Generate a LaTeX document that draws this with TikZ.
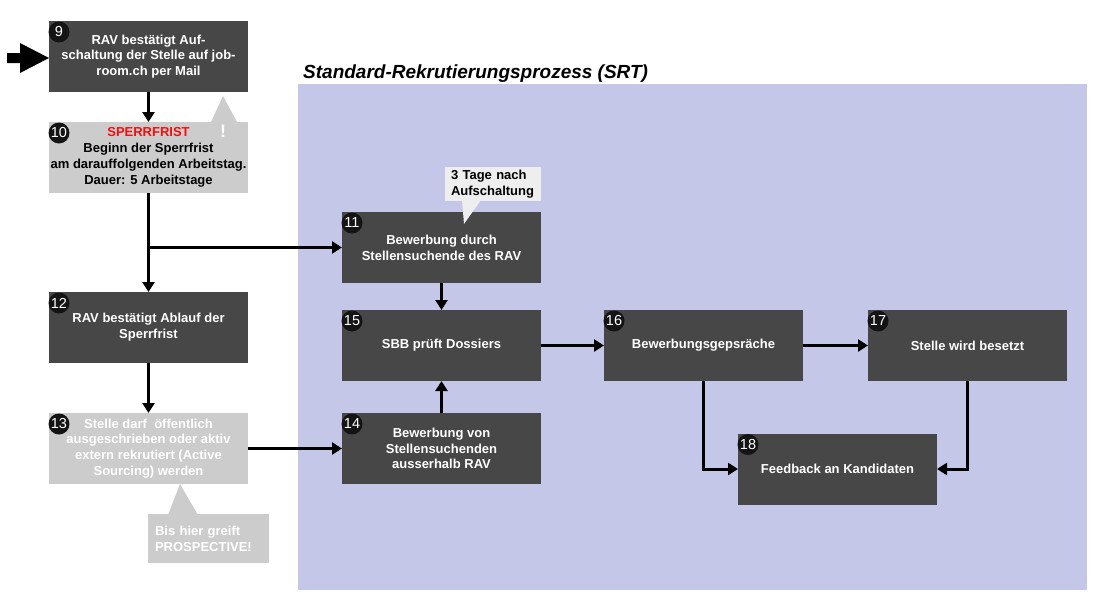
\documentclass[tikz,border=0pt]{standalone}
\usepackage{fontspec}
\setmainfont{Liberation Sans}
\usetikzlibrary{arrows.meta,calc}
\definecolor{dark}{HTML}{474747}
\definecolor{lgray}{HTML}{CCCCCC}
\definecolor{lav}{HTML}{C5C7E8}
\definecolor{note}{HTML}{EEEEEE}
\definecolor{sred}{HTML}{F20F0F}
\tikzset{
  box/.style={fill=dark, text=white, font=\bfseries\fontsize{13}{15.8}\selectfont, align=center,
    minimum width=199pt, minimum height=71pt, inner sep=0pt, outer sep=0pt},
  lbox/.style={box, fill=lgray},
  arr/.style={line width=3pt, -{Triangle[length=10pt,width=12pt]}},
  badge/.style={circle, fill=black!92, text=white, minimum size=21pt, inner sep=0pt,
    font=\fontsize{14.5}{14.5}\selectfont},
  notebox/.style={fill=note, inner sep=0pt, outer sep=0pt, font=\bfseries\fontsize{13}{15.8}\selectfont, align=left},
}
\newcommand{\mybadge}[2]{\node[badge] at ([xshift=10pt,yshift=-11pt]#1.north west) {#2};}
\begin{document}
\begin{tikzpicture}[x=1pt,y=-1pt]
\useasboundingbox (0,0) rectangle (1100,608);
\fill[white] (0,0) rectangle (1100,608);
% lavender region
\fill[lav] (298,84) rectangle (1087,590);
\node[anchor=base west, inner sep=0pt, font=\bfseries\itshape\fontsize{19}{19}\selectfont] (title) at (303,78) {Standard-Rekrutierungsprozess (SRT)};

% boxes
\node[box] (b9) at (148.5,56.5) {RAV bestätigt Auf-\\schaltung der Stelle auf job-\\room.ch per Mail};
\node[lbox] (b10) at (148.5,157.5) {\textcolor{sred}{SPERRFRIST}\\\textcolor{black}{Beginn der Sperrfrist}\\\textcolor{black}{am darauffolgenden Arbeitstag.}\\\textcolor{black}{Dauer: 5 Arbeitstage}};
\node[box] (b12) at (148.5,327.5) {RAV bestätigt Ablauf der\\Sperrfrist};
\node[lbox] (b13) at (148.5,448.5) {Stelle darf~ öffentlich\\ausgeschrieben oder aktiv\\extern rekrutiert (Active\\Sourcing) werden};
\node[box] (b11) at (441.5,247.5) {Bewerbung durch\\Stellensuchende des RAV};
\node[box] (b15) at (441.5,345.5) {SBB prüft Dossiers};
\node[box] (b14) at (441.5,448.5) {Bewerbung von\\Stellensuchenden\\ausserhalb RAV};
\node[box] (b16) at (703.5,345.5) {Bewerbungsgepsräche};
\node[box] (b17) at (967.5,345.5) {Stelle wird besetzt};
\node[box] (b18) at (837.5,469) {Feedback an Kandidaten};

% callouts
\fill[lgray] (211,122) -- (223,96) -- (237,122) -- cycle;
\node[text=white, font=\bfseries\fontsize{18}{18}\selectfont, inner sep=0pt] (excl) at (223,131) {!};

\node[notebox, minimum width=96pt, minimum height=34pt, text width=84pt] (n3) at (493,184) {3 Tage nach\\Aufschaltung};
\fill[note] (462,200) -- (464,224) -- (481,200) -- cycle;

\node[notebox, fill=lgray, text=white, minimum width=121pt, minimum height=49pt, text width=107pt] (np) at (208.5,538.5) {Bis hier greift\\PROSPECTIVE!};
\fill[lgray] (168,515) -- (180,484) -- (198,515) -- cycle;

% badges
\mybadge{b9}{9}
\mybadge{b10}{10}
\mybadge{b11}{11}
\mybadge{b12}{12}
\mybadge{b13}{13}
\mybadge{b14}{14}
\mybadge{b15}{15}
\mybadge{b16}{16}
\mybadge{b17}{17}
\mybadge{b18}{18}

% entry arrow
\fill[black] (7,53) -- (20,53) -- (20,43) -- (49,58) -- (20,73) -- (20,63) -- (7,63) -- cycle;

% connectors
\coordinate (j) at (b10.south |- b11.west);
\draw[arr] (b9.south) -- (b10.north);
\draw[arr] (b10.south) -- (b12.north);
\draw[arr] (j) -- (b11.west);
\draw[arr] (b12.south) -- (b13.north);
\draw[arr] (b13.east) -- (b14.west);
\draw[arr] (b11.south) -- (b15.north);
\draw[arr] (b14.north) -- (b15.south);
\draw[arr] (b15.east) -- (b16.west);
\draw[arr] (b16.east) -- (b17.west);
\draw[arr] (b16.south) |- (b18.west);
\draw[arr] (b17.south) |- (b18.east);
\end{tikzpicture}
\end{document}
